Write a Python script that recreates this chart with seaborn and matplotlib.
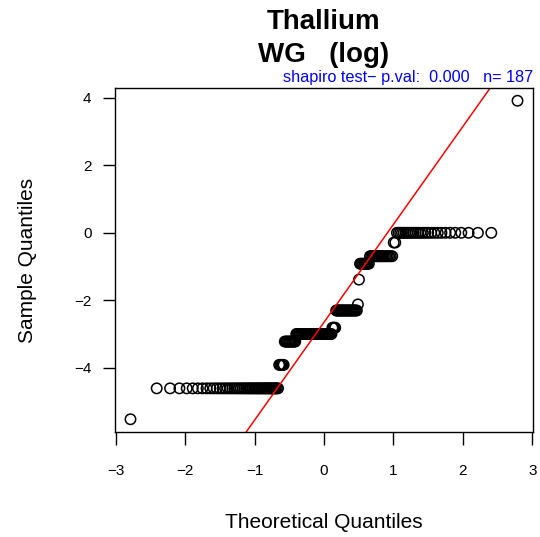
#!/usr/bin/env python3

import matplotlib
matplotlib.use("Agg")
import matplotlib.pyplot as plt
import numpy as np
import pandas as pd
import seaborn as sns
from statistics import NormalDist


# log concentration levels and how many samples sit on each level
levels = [-5.52, -4.605, -3.91, -3.22, -2.996, -2.81, -2.30, -2.12,
          -1.386, -0.916, -0.693, -0.288, 0.0, 3.91]
counts = [1, 47, 5, 11, 38, 4, 22, 1, 1, 9, 18, 2, 27, 1]

title = "Thallium\nWG   (log)"
pval_text = "shapiro test\u2212 p.val:  0.000   n= 187"
x_ticks = [-3, -2, -1, 0, 1, 2, 3]
y_ticks = [-4, -2, 0, 2, 4]


def qq_frame(levels, counts):
    sample = np.sort(np.repeat(levels, counts))
    n = len(sample)
    # R ppoints for n > 10
    probs = (np.arange(1, n + 1) - 0.5) / n
    nd = NormalDist()
    theo = np.array([nd.inv_cdf(p) for p in probs])
    return pd.DataFrame({"theoretical": theo, "sample": sample})


def qq_plot(df, out):
    sns.set_theme(style="ticks")
    plt.rcParams["font.family"] = ["Liberation Sans", "DejaVu Sans"]
    plt.rcParams["text.color"] = "black"
    plt.rcParams["axes.labelcolor"] = "black"

    fig = plt.figure(figsize=(5.4, 5.37), dpi=100)
    ax = fig.add_axes([115 / 540, 1 - 432 / 537, 418 / 540, 344 / 537])

    sns.scatterplot(data=df, x="theoretical", y="sample", ax=ax,
                    marker="o", s=56, facecolor="none", edgecolor="black",
                    linewidth=1.1, legend=False)

    ax.margins(0.04)
    ax.autoscale_view()
    ax.set_xlim(ax.get_xlim())
    ax.set_ylim(ax.get_ylim())

    # qqline through the quartiles
    q1, q3 = np.quantile(df["sample"], [0.25, 0.75])
    z1, z3 = NormalDist().inv_cdf(0.25), NormalDist().inv_cdf(0.75)
    slope = (q3 - q1) / (z3 - z1)
    intercept = q1 - slope * z1
    ax.axline((0, intercept), slope=slope, color="red", linewidth=1.1)

    ax.set_xticks(x_ticks)
    ax.set_yticks(y_ticks)
    ax.tick_params(axis="both", direction="out", length=9, width=1,
                   color="black", labelsize=11, labelcolor="black")
    ax.tick_params(axis="x", pad=14)
    ax.tick_params(axis="y", pad=8)
    for sp in ax.spines.values():
        sp.set_visible(True)
        sp.set_color("black")
        sp.set_linewidth(1)

    ax.set_xlabel("Theoretical Quantiles", fontsize=15)
    ax.set_ylabel("Sample Quantiles", fontsize=15)
    ax.xaxis.label.set_va("center")
    ax.yaxis.label.set_va("center")
    ax.xaxis.set_label_coords(0.5, (432 - 522) / 344)
    ax.yaxis.set_label_coords((28 - 115) / 418, 0.5)

    ax.set_title(title, fontsize=20, fontweight="bold", pad=19,
                 linespacing=1.35)
    ax.text(1.0, 1.008, pval_text, transform=ax.transAxes, ha="right",
            va="bottom", color="blue", fontsize=11.7)

    fig.savefig(f"{out}/out.png", dpi=100)


if __name__ == '__main__':
    frame = qq_frame(levels, counts)
    qq_plot(frame, ".")
